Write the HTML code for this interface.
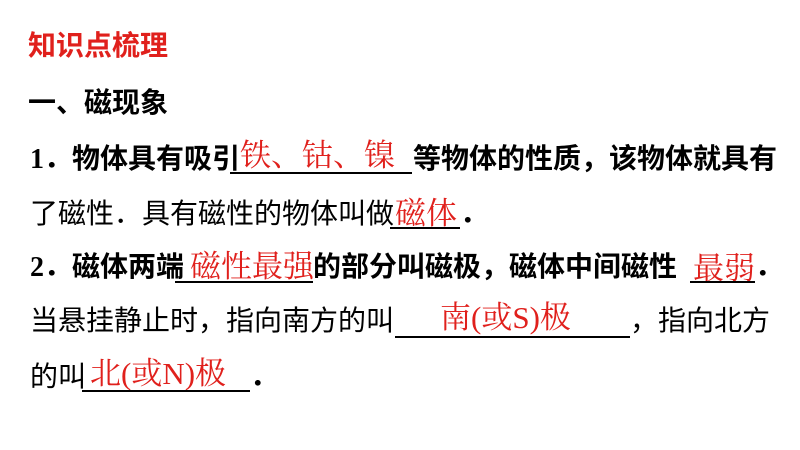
<!DOCTYPE html>
<html><head><meta charset="utf-8"><style>
body{margin:0;width:800px;height:450px;background:#fff;position:relative;overflow:hidden;font-family:"Liberation Serif","Noto Sans CJK SC",sans-serif;}
.t{position:absolute;font-size:28px;line-height:30px;white-space:nowrap;color:#000;}
.b{font-weight:bold;}
.r{color:#e0201c;font-family:"Liberation Serif","Noto Serif CJK SC",serif;font-weight:normal;font-size:31px;line-height:34px;}
.u{position:absolute;height:2px;background:#000;}
</style></head><body>
<div class="t b" style="left:28px;top:32px;color:#e0201c;font-size:28px;">知识点梳理</div>
<div class="t b" style="left:28px;top:89px;">一、磁现象</div>

<div class="t b" style="left:30px;top:145px;">1．物体具有吸引</div>
<div class="t r" style="left:240px;top:139px;">铁、钴、镍</div>
<div class="u" style="left:230px;top:172px;width:182px;"></div>
<div class="t b" style="left:413px;top:145px;">等物体的性质，该物体就具有</div>

<div class="t" style="left:30px;top:200px;">了磁性．具有磁性的物体叫做</div>
<div class="t r" style="left:395px;top:197px;">磁体</div>
<div class="u" style="left:390px;top:227px;width:70px;"></div>
<div class="t b" style="left:460px;top:200px;">．</div>

<div class="t b" style="left:30px;top:253px;">2．磁体两端</div>
<div class="t r" style="left:190px;top:250px;">磁性最强</div>
<div class="u" style="left:175px;top:281px;width:138px;"></div>
<div class="t b" style="left:313px;top:253px;">的部分叫磁极，磁体中间磁性</div>
<div class="t r" style="left:693px;top:252px;">最弱</div>
<div class="u" style="left:690px;top:281px;width:65px;"></div>
<div class="t b" style="left:755px;top:253px;">．</div>

<div class="t" style="left:30px;top:307px;">当悬挂静止时，指向南方的叫</div>
<div class="t r" style="left:440px;top:301px;">南(或S)极</div>
<div class="u" style="left:395px;top:336px;width:235px;"></div>
<div class="t" style="left:630px;top:307px;">，指向北方</div>

<div class="t" style="left:30px;top:363px;">的叫</div>
<div class="t r" style="left:90px;top:357px;">北(或N)极</div>
<div class="u" style="left:82px;top:390px;width:168px;"></div>
<div class="t b" style="left:250px;top:363px;">．</div>
</body></html>
